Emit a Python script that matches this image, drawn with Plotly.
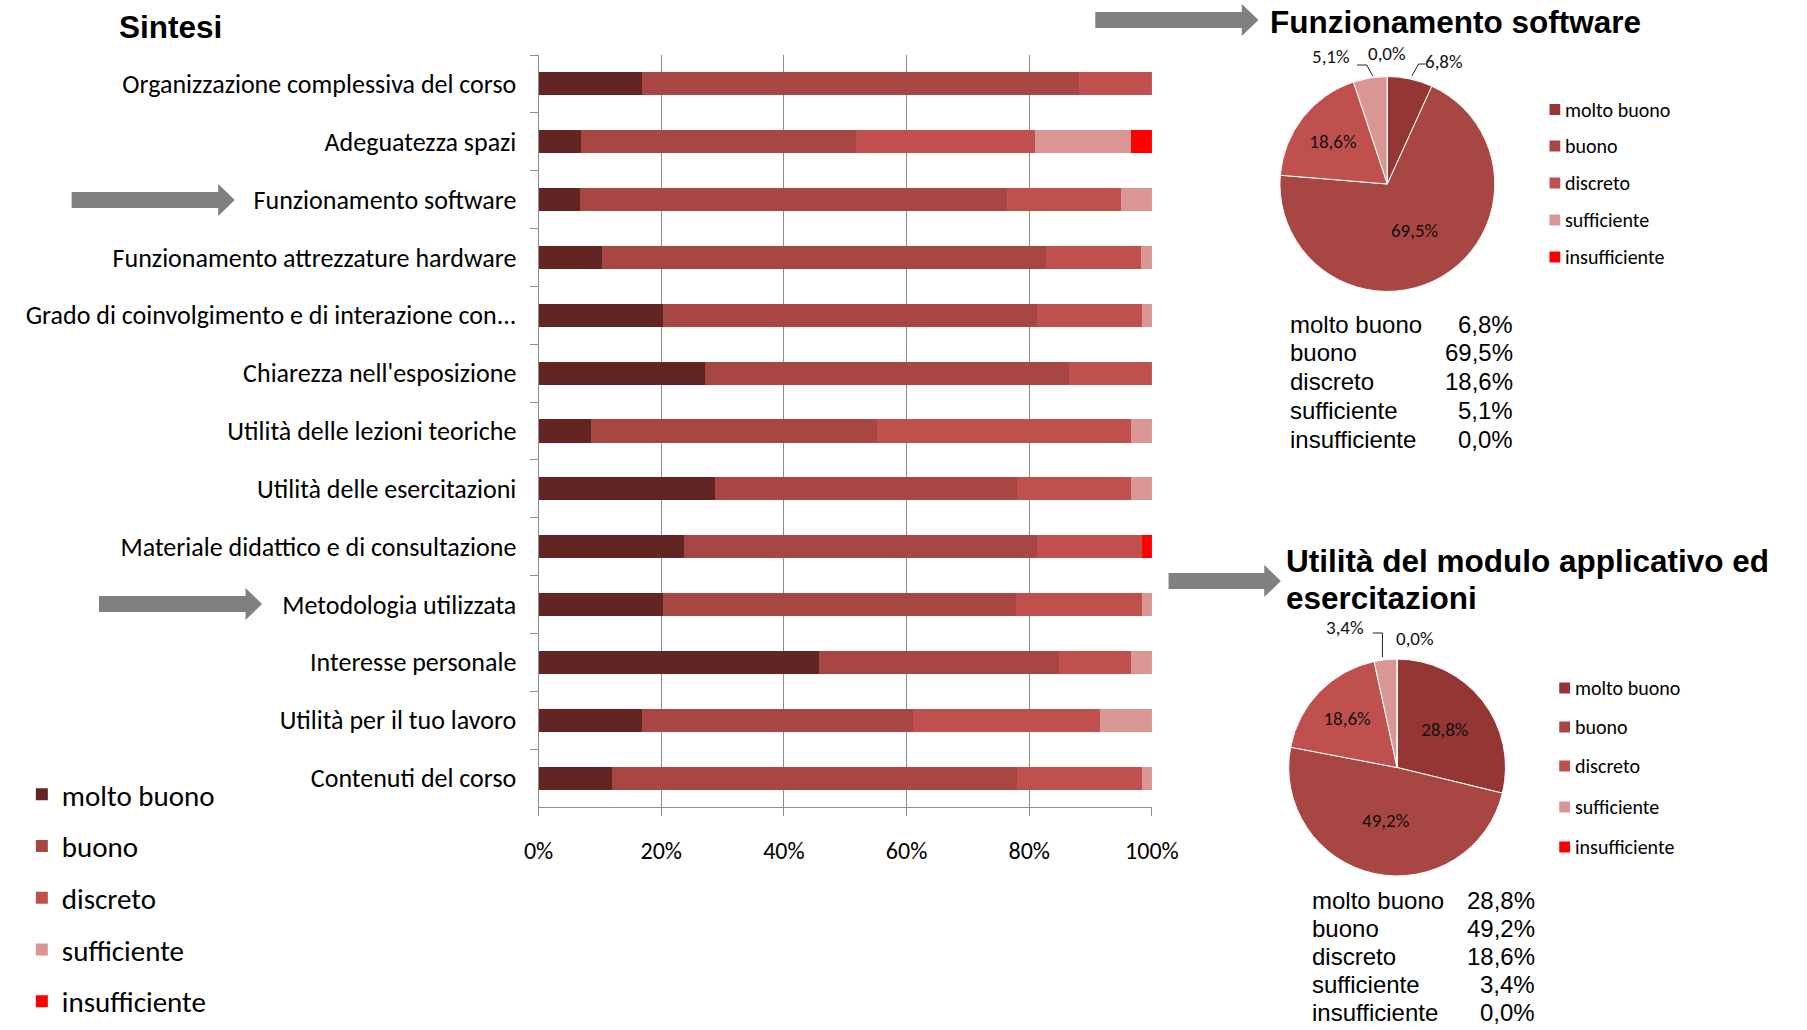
import plotly.graph_objects as go

W, H = 1807, 1030


def px(x):
    return x / W


def py(y):
    return 1 - y / H


# ---------------- data ----------------
categories = [
    "Organizzazione complessiva del corso",
    "Adeguatezza spazi",
    "Funzionamento software",
    "Funzionamento attrezzature hardware",
    "Grado di coinvolgimento e di interazione con...",
    "Chiarezza nell'esposizione",
    "Utilità delle lezioni teoriche",
    "Utilità delle esercitazioni",
    "Materiale didattico e di consultazione",
    "Metodologia utilizzata",
    "Interesse personale",
    "Utilità per il tuo lavoro",
    "Contenuti del corso",
]
levels = ["molto buono", "buono", "discreto", "sufficiente", "insufficiente"]

molto_buono = [16.9, 6.9, 6.8, 10.3, 20.3, 27.1, 8.6, 28.8, 23.7, 20.3, 45.8, 16.9, 11.9]
buono = [71.2, 44.8, 69.5, 72.4, 61.0, 59.3, 46.6, 49.2, 57.6, 57.6, 39.0, 44.1, 66.1]
discreto = [11.9, 29.3, 18.6, 15.5, 17.0, 13.6, 41.4, 18.6, 17.0, 20.4, 11.8, 30.5, 20.3]
sufficiente = [0.0, 15.6, 5.1, 1.8, 1.7, 0.0, 3.4, 3.4, 0.0, 1.7, 3.4, 8.5, 1.7]
insufficiente = [0.0, 3.4, 0.0, 0.0, 0.0, 0.0, 0.0, 0.0, 1.7, 0.0, 0.0, 0.0, 0.0]
series = [molto_buono, buono, discreto, sufficiente, insufficiente]

x_ticks = [0, 20, 40, 60, 80, 100]
x_tick_labels = ["0%", "20%", "40%", "60%", "80%", "100%"]

pie1_title = ["Funzionamento software"]
pie1_values = [6.8, 69.5, 18.6, 5.1, 0.0]
pie2_title = ["Utilità del modulo applicativo ed", "esercitazioni"]
pie2_values = [28.8, 49.2, 18.6, 3.4, 0.0]

bar_colors = ["#632523", "#A84644", "#C0504D", "#D99694", "#FF0000"]
pie_colors = ["#943634", "#A84644", "#C0504D", "#D99694", "#FF0000"]

LABEL_FONT = "Carlito, Lato, sans-serif"
ARIAL = "Liberation Sans, Arial, sans-serif"


def fmt(v):
    return f"{v:.1f}".replace(".", ",") + "%"


fig = go.Figure()

# ---------------- stacked bar chart ----------------
for name, vals, col in zip(levels, series, bar_colors):
    fig.add_trace(go.Bar(
        y=categories, x=vals, name=name, orientation="h",
        marker=dict(color=col, line=dict(width=0)),
        legendgroup=name, legend="legend",
        hovertemplate="%{y}<br>" + name + ": %{x:.1f}%<extra></extra>",
    ))


# ---------------- pies ----------------
def pie_trace(values, domain_px):
    x0, x1, y0, y1 = domain_px
    tt = ["%{value:.1f}%" if v >= 10 else "" for v in values]
    return go.Pie(
        labels=levels, values=values, sort=False, direction="clockwise",
        rotation=0, showlegend=False,
        domain=dict(x=[px(x0), px(x1)], y=[py(y1), py(y0)]),
        marker=dict(colors=pie_colors, line=dict(color="white", width=1)),
        texttemplate=tt, textposition="inside",
        insidetextorientation="horizontal",
        textfont=dict(family=LABEL_FONT, size=19, color="#111111"),
        hovertemplate="%{label}: %{value:.1f}%<extra></extra>",
    )


fig.add_trace(pie_trace(pie1_values, (1295, 1515, 73, 295)))
fig.add_trace(pie_trace(pie2_values, (1304, 1526, 656, 879)))

# ---------------- annotations & shapes ----------------
ann = []
shapes = []


def arrow(x0, x1, yc, shaft=16, head_h=32, head_l=17):
    pts = [(x0, yc - shaft / 2), (x1 - head_l, yc - shaft / 2), (x1 - head_l, yc - head_h / 2),
           (x1, yc), (x1 - head_l, yc + head_h / 2), (x1 - head_l, yc + shaft / 2),
           (x0, yc + shaft / 2)]
    path = "M " + " L ".join(f"{px(a):.5f},{py(b):.5f}" for a, b in pts) + " Z"
    shapes.append(dict(type="path", path=path, xref="paper", yref="paper",
                       fillcolor="#808080", line=dict(width=0)))


def leader(points):
    path = "M " + " L ".join(f"{px(a):.5f},{py(b):.5f}" for a, b in points)
    shapes.append(dict(type="path", path=path, xref="paper", yref="paper",
                       line=dict(color="#222222", width=1)))


arrow(58, 225, 200)
arrow(86, 253, 604)
arrow(1106, 1273, 20)
arrow(1181, 1296, 581)

# titles
TITLE_FONT = dict(family=ARIAL, size=31.5, color="black")
ann.append(dict(text="<b>Sintesi</b>", x=px(104), y=py(27), xanchor="left", yanchor="middle",
                font=TITLE_FONT))
ann.append(dict(text="<b>" + pie1_title[0] + "</b>", x=px(1283), y=py(22), xanchor="left",
                yanchor="middle", font=TITLE_FONT))
for i, line in enumerate(pie2_title):
    ann.append(dict(text="<b>" + line + "</b>", x=px(1299), y=py(561 + 37 * i), xanchor="left",
                    yanchor="middle", font=TITLE_FONT))


# pie legends and value tables
def pie_legend(sq_x, txt_x, ys):
    for lev, col, yy in zip(levels, pie_colors, ys):
        shapes.append(dict(type="rect", xref="paper", yref="paper",
                           x0=px(sq_x), x1=px(sq_x + 11), y0=py(yy + 5.5), y1=py(yy - 5.5),
                           fillcolor=col, line=dict(width=0)))
        ann.append(dict(text=lev, x=px(txt_x), y=py(yy), xanchor="left", yanchor="middle",
                        font=dict(family=LABEL_FONT, size=20, color="black")))


pie_legend(1571, 1585, [109.5, 146, 183, 220, 257])
pie_legend(1581, 1595, [688, 727, 766, 807, 847])


def table(lx, rx, y0, step, values):
    for i, (lev, v) in enumerate(zip(levels, values)):
        yy = y0 + i * step
        ann.append(dict(text=lev, x=px(lx), y=py(yy), xanchor="left", yanchor="middle",
                        font=dict(family=ARIAL, size=24, color="black")))
        ann.append(dict(text=fmt(v), x=px(rx), y=py(yy), xanchor="right", yanchor="middle",
                        font=dict(family=ARIAL, size=24, color="black")))


table(1303, 1536, 324, 28.8, pie1_values)
table(1326, 1558, 900, 28.2, pie2_values)


# labels of the small slices, outside the pie with leader lines
def small_label(v, x, y):
    ann.append(dict(text=fmt(v), x=px(x), y=py(y), xanchor="center", yanchor="middle",
                    font=dict(family=LABEL_FONT, size=19, color="#111111")))


small_label(pie1_values[3], 1347, 57)
small_label(pie1_values[4], 1405, 53)
small_label(pie1_values[0], 1463, 61)
leader([(1374, 65), (1384, 65), (1390, 76)])
leader([(1430, 76), (1437, 64), (1444, 64)])

small_label(pie2_values[3], 1362, 627)
small_label(pie2_values[4], 1433, 638)
leader([(1390, 633), (1400, 633), (1400, 657)])

for a in ann:
    a.update(xref="paper", yref="paper", showarrow=False)

fig.update_layout(
    width=W, height=H, autosize=False,
    margin=dict(l=0, r=0, t=0, b=0),
    paper_bgcolor="white", plot_bgcolor="white",
    barmode="stack", bargap=0.6,
    separators=",.",
    xaxis=dict(domain=[px(536), px(1164)], range=[0, 100], tickmode="array",
               tickvals=x_ticks, ticktext=x_tick_labels,
               showgrid=True, gridcolor="#8c8c8c", gridwidth=1,
               showline=True, linecolor="#8c8c8c", ticks="outside", ticklen=8,
               tickcolor="#8c8c8c", zeroline=False, ticklabelstandoff=14,
               tickfont=dict(family=LABEL_FONT, size=24, color="black"), fixedrange=True),
    yaxis=dict(domain=[py(807), py(55)], autorange="reversed", type="category",
               showline=True, linecolor="#8c8c8c", ticks="outside", ticklen=8,
               tickcolor="#8c8c8c", tickson="boundaries", showgrid=False,
               ticklabelstandoff=16,
               tickfont=dict(family=LABEL_FONT, size=26, color="black"), fixedrange=True),
    legend=dict(x=px(7), y=py(769), xanchor="left", yanchor="top",
                traceorder="grouped", tracegroupgap=11, bgcolor="rgba(0,0,0,0)",
                font=dict(family=LABEL_FONT, size=29, color="black")),
    annotations=ann, shapes=shapes,
    showlegend=True,
)

fig.write_html("out.html")
